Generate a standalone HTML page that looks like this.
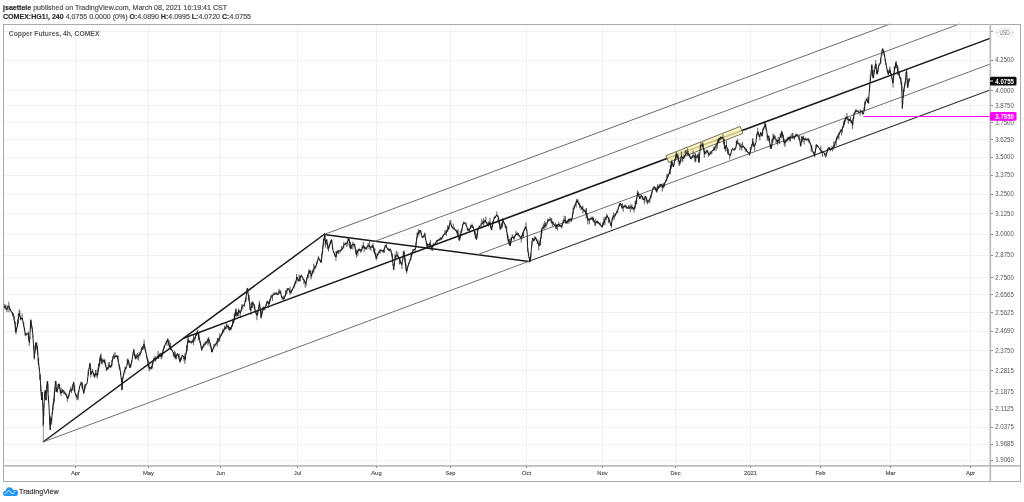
<!DOCTYPE html><html><head><meta charset="utf-8"><style>
html,body{margin:0;padding:0;background:#fff;width:1024px;height:502px;overflow:hidden;}
svg{display:block;position:absolute;left:0;top:0;will-change:transform}
text{font-family:"Liberation Sans",sans-serif}
</style></head><body>
<svg width="1024" height="502" viewBox="0 0 1024 502">
<text x="3" y="9.6" font-size="7.5" fill="#4d4d4d" stroke="#4d4d4d" stroke-width="0.18" textLength="224" lengthAdjust="spacingAndGlyphs"><tspan font-weight="bold" fill="#2e2e2e" stroke="#2e2e2e">jsaettele</tspan> published on TradingView.com, March 08, 2021 16:19:41 CST</text>
<text x="3" y="18.9" font-size="7.2" fill="#4d4d4d" stroke="#4d4d4d" stroke-width="0.18" textLength="248" lengthAdjust="spacingAndGlyphs"><tspan font-weight="bold" fill="#2e2e2e" stroke="#2e2e2e">COMEX:HG1!, 240</tspan> 4.0755 0.0000 (0%) <tspan font-weight="bold" fill="#2e2e2e" stroke="#2e2e2e">O:</tspan>4.0890 <tspan font-weight="bold" fill="#2e2e2e" stroke="#2e2e2e">H:</tspan>4.0995 <tspan font-weight="bold" fill="#2e2e2e" stroke="#2e2e2e">L:</tspan>4.0720 <tspan font-weight="bold" fill="#2e2e2e" stroke="#2e2e2e">C:</tspan>4.0755</text>
<g stroke="#edf2f6" stroke-width="1" shape-rendering="crispEdges">
<line x1="75.5" y1="24" x2="75.5" y2="466"/>
<line x1="148.5" y1="24" x2="148.5" y2="466"/>
<line x1="220.5" y1="24" x2="220.5" y2="466"/>
<line x1="297.5" y1="24" x2="297.5" y2="466"/>
<line x1="376.5" y1="24" x2="376.5" y2="466"/>
<line x1="450.5" y1="24" x2="450.5" y2="466"/>
<line x1="526.5" y1="24" x2="526.5" y2="466"/>
<line x1="602.5" y1="24" x2="602.5" y2="466"/>
<line x1="675.5" y1="24" x2="675.5" y2="466"/>
<line x1="750.5" y1="24" x2="750.5" y2="466"/>
<line x1="820.5" y1="24" x2="820.5" y2="466"/>
<line x1="890.5" y1="24" x2="890.5" y2="466"/>
<line x1="970.5" y1="24" x2="970.5" y2="466"/>
<line x1="3" y1="31.5" x2="990" y2="31.5"/>
<line x1="3" y1="60.5" x2="990" y2="60.5"/>
<line x1="3" y1="90.5" x2="990" y2="90.5"/>
<line x1="3" y1="105.5" x2="990" y2="105.5"/>
<line x1="3" y1="122.5" x2="990" y2="122.5"/>
<line x1="3" y1="139.5" x2="990" y2="139.5"/>
<line x1="3" y1="157.5" x2="990" y2="157.5"/>
<line x1="3" y1="175.5" x2="990" y2="175.5"/>
<line x1="3" y1="194.5" x2="990" y2="194.5"/>
<line x1="3" y1="213.5" x2="990" y2="213.5"/>
<line x1="3" y1="234.5" x2="990" y2="234.5"/>
<line x1="3" y1="255.5" x2="990" y2="255.5"/>
<line x1="3" y1="277.5" x2="990" y2="277.5"/>
<line x1="3" y1="294.5" x2="990" y2="294.5"/>
<line x1="3" y1="312.5" x2="990" y2="312.5"/>
<line x1="3" y1="331.5" x2="990" y2="331.5"/>
<line x1="3" y1="350.5" x2="990" y2="350.5"/>
<line x1="3" y1="370.5" x2="990" y2="370.5"/>
<line x1="3" y1="391.5" x2="990" y2="391.5"/>
<line x1="3" y1="409.5" x2="990" y2="409.5"/>
<line x1="3" y1="427.5" x2="990" y2="427.5"/>
<line x1="3" y1="444.5" x2="990" y2="444.5"/>
<line x1="3" y1="460.5" x2="990" y2="460.5"/>
</g>
<text x="8.8" y="36.3" font-size="7.2" font-weight="bold" fill="#5a5a5a" textLength="90.6" lengthAdjust="spacingAndGlyphs">Copper Futures, 4h, COMEX</text>
<g fill="none" stroke-linecap="butt">
<polyline points="43,442 324,234.5 529,261.5" stroke="#1a1a1a" stroke-width="1.5" stroke-linejoin="round"/>
<line x1="183.5" y1="338.25" x2="990.0" y2="38.4" stroke="#1a1a1a" stroke-width="1.5"/>
<line x1="324" y1="234.5" x2="890.2" y2="24.0" stroke="#6a6a6a" stroke-width="1"/>
<line x1="43" y1="442" x2="529" y2="261.3" stroke="#707070" stroke-width="1"/>
<line x1="529" y1="261.3" x2="990.0" y2="89.9" stroke="#333" stroke-width="1.05"/>
<line x1="375.2" y1="241.2" x2="959.4" y2="24.0" stroke="#707070" stroke-width="1"/>
<line x1="477.8" y1="254.6" x2="990.0" y2="64.1" stroke="#707070" stroke-width="1"/>
</g>
<g transform="translate(704.4,144.5) rotate(-21.5)"><rect x="-39.85" y="-3.7" width="79.7" height="7.4" fill="#fdf2b0" fill-opacity="0.78" stroke="#6f6a55" stroke-width="0.85"/></g>
<path d="M3.5,307.8 L5.6,306.2 L6.7,310.0 L8.3,305.8 L10.4,310.0 L13.6,315.0 L16.0,331.7 L17.5,325.3 L19.1,313.3 L20.7,319.0 L22.3,318.0 L25.5,334.9 L27.9,333.0 L29.5,342.8 L30.8,319.7 L32.7,333.0 L34.3,357.2 L35.9,342.8 L37.5,349.2 L38.4,361.6 L40.0,375.0 L41.0,390.0 L41.6,400.0 L42.2,392.0 L43.0,412.0 L43.3,426.0 L43.8,408.0 L44.6,396.0 L45.3,390.0 L46.0,400.0 L47.0,384.0 L47.6,381.0 L48.2,396.0 L49.0,406.0 L49.6,418.0 L50.2,430.0 L50.8,418.0 L51.6,420.0 L52.7,408.0 L54.0,400.0 L55.5,381.0 L56.7,392.0 L59.1,383.9 L60.7,393.5 L63.1,390.3 L65.5,393.5 L67.9,399.0 L70.3,389.5 L71.9,390.3 L73.5,382.3 L75.1,393.5 L77.5,398.3 L79.9,385.5 L81.5,382.3 L83.8,393.5 L85.4,384.7 L87.0,383.9 L88.6,371.2 L89.9,364.0 L91.0,374.4 L92.6,371.2 L94.2,376.0 L95.8,373.6 L97.2,375.0 L98.8,367.8 L100.4,356.7 L102.0,361.4 L104.3,360.6 L106.7,369.4 L109.1,366.2 L111.5,366.2 L113.1,355.9 L115.5,356.7 L117.1,355.9 L118.7,363.0 L120.3,371.0 L121.9,383.7 L121.9,390.1 L122.7,379.0 L124.3,371.0 L126.7,366.2 L128.2,359.8 L129.8,367.8 L131.4,363.0 L133.8,350.3 L135.4,358.2 L137.8,355.9 L140.2,354.3 L142.6,347.1 L144.2,344.7 L145.8,351.9 L147.4,359.8 L149.0,367.0 L151.4,368.6 L153.7,359.8 L156.9,358.2 L159.3,354.3 L161.7,356.7 L163.3,350.3 L165.7,343.1 L167.8,339.9 L168.9,344.7 L170.5,347.9 L172.9,351.9 L175.3,357.5 L177.6,353.5 L180.0,361.4 L182.4,355.1 L184.8,359.0 L186.4,351.9 L188.0,340.7 L190.4,342.3 L192.8,341.5 L195.2,337.5 L197.6,332.0 L199.2,337.5 L201.6,349.5 L203.9,344.7 L206.3,343.1 L208.7,339.1 L210.3,343.9 L211.9,351.9 L214.3,345.5 L217.5,342.3 L219.9,337.5 L222.3,332.7 L224.7,328.8 L227.0,326.4 L229.4,327.2 L230.0,329.7 L232.4,324.9 L234.0,320.1 L235.6,312.2 L237.2,315.3 L238.8,310.6 L240.4,312.9 L242.0,306.6 L244.3,305.0 L245.9,298.6 L247.2,288.2 L248.8,297.8 L250.7,310.6 L252.3,302.6 L253.9,304.2 L255.5,312.2 L257.1,315.3 L259.5,303.4 L261.1,316.9 L262.7,310.6 L265.1,307.4 L267.5,301.0 L269.0,304.2 L271.4,296.2 L273.8,294.6 L276.2,293.0 L277.8,294.6 L280.2,291.4 L281.8,297.8 L284.2,298.6 L286.6,291.4 L288.2,288.2 L290.6,293.0 L292.9,288.2 L295.3,283.5 L296.9,277.1 L298.5,281.1 L300.9,275.5 L303.3,278.7 L305.7,283.5 L308.1,273.9 L310.5,270.7 L311.3,276.3 L313.7,269.1 L316.1,265.9 L318.4,258.0 L319.6,260.2 L321.2,262.6 L322.5,250.7 L323.6,241.1 L324.7,235.5 L325.6,242.7 L326.8,239.5 L327.9,249.1 L329.5,245.9 L331.5,239.5 L333.1,250.7 L335.5,257.1 L337.1,251.5 L339.5,250.7 L341.9,249.9 L344.3,244.3 L346.7,243.5 L349.1,238.7 L350.7,249.1 L352.3,244.3 L354.7,244.3 L356.2,254.7 L358.6,249.9 L361.0,250.7 L363.4,245.9 L365.8,249.1 L368.2,245.1 L370.6,247.5 L373.0,245.9 L374.6,252.3 L376.2,257.9 L378.6,252.3 L380.9,249.9 L383.3,251.5 L385.7,245.1 L388.1,249.9 L390.5,249.1 L392.1,255.5 L393.7,269.8 L395.3,256.3 L397.7,255.5 L399.3,258.7 L401.7,265.0 L404.0,252.3 L406.4,271.4 L408.8,263.4 L411.2,257.1 L413.3,249.9 L415.5,249.1 L416.8,237.9 L418.4,233.2 L420.3,230.0 L422.4,237.9 L424.8,234.7 L427.2,246.7 L429.6,243.5 L431.5,247.5 L434.3,245.1 L436.7,241.1 L439.1,239.5 L441.5,238.7 L443.9,234.7 L446.3,231.6 L448.4,228.4 L450.3,222.8 L452.7,228.4 L455.0,229.2 L457.4,232.4 L459.5,238.7 L461.4,232.4 L463.0,223.6 L465.4,222.8 L467.8,230.0 L470.0,229.3 L471.6,225.3 L474.0,229.3 L476.4,239.6 L478.0,229.3 L480.4,225.3 L482.7,222.9 L485.1,220.5 L487.5,224.5 L489.9,222.9 L491.5,230.1 L493.9,218.9 L496.8,214.9 L498.4,217.3 L500.3,229.3 L502.7,221.3 L504.3,222.9 L505.9,226.9 L508.2,239.6 L510.2,246.0 L511.8,237.2 L513.8,238.0 L516.2,234.0 L518.6,234.8 L521.0,238.0 L523.4,231.7 L525.8,226.9 L527.1,231.7 L527.7,249.2 L529.0,257.9 L530.2,260.3 L531.4,249.2 L532.5,238.0 L533.7,241.2 L535.3,237.2 L536.9,241.2 L539.3,246.0 L540.9,238.0 L541.7,228.5 L544.1,226.9 L546.5,224.5 L548.1,220.5 L550.5,218.9 L552.9,223.7 L556.1,226.1 L558.4,224.5 L561.6,226.9 L564.0,219.7 L566.4,222.9 L568.8,219.7 L572.0,218.9 L573.6,209.3 L576.8,200.6 L579.2,204.6 L581.6,207.7 L583.9,210.1 L586.3,213.3 L587.9,219.7 L590.3,218.9 L592.7,218.1 L595.1,222.9 L597.5,221.3 L599.9,224.5 L602.3,226.9 L604.7,220.5 L607.0,215.7 L609.4,219.7 L611.0,226.1 L612.6,217.3 L615.0,215.7 L617.4,210.9 L620.0,203.3 L622.4,208.1 L624.8,205.7 L628.0,208.1 L631.2,206.5 L634.3,208.9 L635.9,203.3 L637.8,192.9 L639.9,198.5 L641.5,195.3 L643.9,200.1 L645.5,196.1 L647.9,202.5 L650.3,198.5 L652.7,189.0 L654.3,186.6 L656.7,191.4 L659.0,185.8 L661.1,184.2 L663.0,187.4 L664.6,183.4 L667.0,178.6 L669.4,173.0 L671.0,166.7 L671.8,161.9 L673.4,166.7 L675.0,159.5 L676.6,154.7 L678.2,157.9 L679.8,163.5 L681.4,156.3 L683.7,158.7 L686.1,153.1 L688.5,153.9 L690.9,158.7 L693.3,155.5 L695.7,157.9 L698.1,155.5 L698.9,162.7 L700.5,145.1 L702.9,145.1 L704.5,153.9 L706.9,150.7 L709.2,154.7 L711.6,151.5 L714.0,149.1 L716.4,145.1 L718.8,140.4 L720.0,137.9 L722.7,137.5 L724.0,141.5 L724.9,148.7 L726.3,145.1 L728.1,153.2 L730.3,155.9 L732.1,148.7 L733.9,149.6 L735.7,148.7 L737.0,141.5 L738.8,144.2 L741.5,146.9 L744.2,146.9 L746.0,149.6 L747.8,152.3 L749.6,154.1 L751.4,146.9 L752.7,142.4 L754.1,146.9 L755.9,142.4 L756.8,135.2 L758.1,131.7 L759.5,137.0 L760.8,132.6 L762.2,136.1 L763.0,129.0 L765.3,125.4 L766.6,129.9 L767.5,137.9 L768.9,136.1 L769.8,143.3 L771.1,148.7 L772.5,139.7 L773.8,137.0 L775.6,138.8 L777.4,141.5 L779.2,139.7 L781.9,132.1 L783.2,137.9 L784.6,143.3 L786.4,140.6 L789.1,137.9 L791.7,137.0 L794.4,137.0 L797.1,134.3 L800.0,140.6 L800.6,146.2 L802.2,138.2 L805.3,139.8 L807.7,139.0 L810.1,143.0 L812.5,151.0 L814.6,155.0 L816.5,144.6 L818.9,147.8 L821.3,151.0 L823.7,152.6 L826.1,155.0 L828.4,147.8 L830.8,149.4 L833.2,147.8 L835.6,142.2 L837.2,137.5 L839.6,132.7 L842.0,129.5 L844.4,122.3 L846.0,117.5 L848.4,119.9 L850.8,119.9 L852.4,123.9 L854.0,114.3 L854.8,111.7 L857.2,110.9 L859.6,112.5 L861.2,110.9 L863.5,114.1 L865.1,103.0 L866.7,99.0 L868.3,103.0 L869.1,94.2 L869.9,83.8 L870.7,76.7 L871.8,65.5 L873.1,78.2 L874.7,69.5 L875.8,63.9 L877.1,74.3 L878.7,65.5 L880.3,63.1 L881.4,54.3 L882.7,48.8 L884.3,54.3 L885.9,63.9 L888.2,74.3 L889.8,70.3 L891.4,75.1 L893.0,83.0 L894.6,67.9 L896.2,63.9 L898.6,73.5 L900.7,79.8 L901.8,87.8 L902.3,108.5 L903.4,92.6 L905.0,83.8 L906.6,71.9 L907.7,87.8 L909.0,79.8 L909.8,78.2" fill="none" stroke="#161616" stroke-width="0.95" stroke-linejoin="round"/>
<path d="M3.50,306.7V309.2M4.16,303.6V308.4M4.82,305.6V308.3M5.48,305.7V307.5M5.72,304.6V309.6M6.38,308.4V309.8M7.02,308.7V312.1M7.68,305.3V307.8M8.92,301.7V312.3M9.58,306.5V310.1M10.24,309.1V310.0M10.56,308.9V310.6M11.22,310.7V312.0M11.88,312.0V313.5M12.54,312.2V316.3M13.20,313.0V316.1M14.00,316.0V320.5M14.66,320.7V323.4M15.32,321.7V332.3M15.98,327.2V334.6M16.02,330.6V332.4M16.68,327.9V329.2M17.34,323.0V327.2M17.66,319.5V325.5M18.32,313.9V323.7M18.98,313.9V315.0M19.22,309.3V315.1M19.88,310.8V317.2M20.54,318.0V320.4M20.86,316.7V319.6M21.52,318.1V319.3M22.18,313.5V320.2M22.42,318.1V319.5M23.08,321.6V322.5M23.74,322.2V326.3M24.40,327.2V330.6M25.06,331.9V335.5M25.94,334.1V336.2M26.60,333.6V335.0M27.26,332.9V334.2M28.54,331.6V340.6M29.20,339.9V345.8M29.80,336.5V339.2M30.46,320.4V329.0M31.14,321.5V327.4M31.80,325.9V327.7M32.46,327.7V332.5M32.94,335.3V337.2M33.60,346.0V349.5M34.26,355.5V359.6M34.34,355.4V358.6M35.00,345.6V352.9M35.66,342.5V350.3M36.14,343.1V344.4M36.80,341.9V349.7M37.46,348.2V349.7M37.54,345.5V355.1M38.20,357.9V364.1M38.60,358.0V365.8M39.26,367.2V369.4M39.92,373.9V379.6M40.08,375.1V380.1M40.74,384.9V391.4M41.26,391.4V395.7M41.94,394.6V399.5M42.46,398.0V399.6M43.72,408.2V416.2M43.88,403.7V408.1M44.54,391.6V397.9M44.66,395.1V396.5M45.94,397.1V399.6M46.06,398.2V400.7M46.72,385.7V389.2M47.28,381.4V387.2M47.92,383.7V392.4M48.48,395.8V402.4M49.52,415.7V416.8M49.68,419.2V424.9M50.72,415.8V424.9M50.88,417.9V420.1M51.54,418.5V422.2M51.66,418.0V424.6M52.32,411.6V414.6M53.08,402.6V410.8M53.74,398.5V404.4M54.26,391.8V402.0M54.92,386.8V392.0M56.08,381.0V391.6M57.32,388.7V392.8M57.98,384.0V389.4M58.64,383.5V386.6M59.56,384.6V388.9M60.22,390.1V393.0M61.18,387.6V396.1M61.84,389.9V393.0M62.50,389.0V392.6M63.70,390.0V393.9M64.36,391.6V394.2M65.02,392.5V394.4M65.98,393.3V395.3M66.64,394.0V397.5M67.30,395.9V401.8M68.50,395.8V396.9M69.16,393.1V396.3M69.82,390.7V392.0M70.78,386.4V391.4M71.44,389.0V393.2M72.36,386.9V390.4M73.02,384.0V386.1M73.98,381.7V391.0M74.64,385.3V391.7M75.56,392.8V395.3M76.22,395.2V397.1M76.88,394.1V400.2M78.12,392.2V400.3M78.78,390.5V392.1M79.44,386.5V388.9M80.36,383.9V385.7M81.02,381.5V384.6M81.98,383.6V388.4M82.64,382.6V389.3M83.30,390.6V391.4M84.30,386.3V391.1M84.96,384.4V389.1M85.84,383.7V386.8M86.50,383.8V384.6M87.50,378.2V380.3M88.16,370.2V375.6M89.04,368.2V369.2M89.70,362.8V366.6M90.10,363.0V368.9M90.76,367.6V377.4M91.24,371.9V374.6M91.90,371.3V373.2M92.56,371.0V372.5M92.64,369.0V371.9M93.30,372.5V374.3M93.96,373.0V376.8M94.44,374.0V377.9M95.10,373.6V377.2M95.76,370.0V374.1M95.84,369.7V375.7M96.50,373.8V375.4M97.16,373.3V378.5M97.24,373.6V376.7M97.90,367.6V375.1M98.56,363.6V370.3M99.04,363.5V366.9M99.70,358.4V365.6M100.36,354.4V360.1M100.44,356.1V360.9M101.10,353.5V364.1M101.76,359.1V363.5M102.24,360.5V364.6M102.90,358.4V361.9M103.56,360.4V361.9M104.22,359.3V362.8M104.38,359.4V361.2M105.04,360.2V363.7M105.70,362.7V366.4M106.36,367.1V371.1M107.04,368.4V369.5M107.70,366.8V370.2M108.36,364.3V369.1M109.02,362.0V367.6M109.18,362.3V366.6M109.84,365.6V367.4M110.50,365.5V368.1M111.16,364.7V367.4M111.84,359.8V366.1M112.50,358.7V361.1M113.70,353.5V359.3M114.36,355.7V359.0M115.02,351.9V357.8M115.98,355.1V357.0M116.64,354.9V357.3M117.56,355.9V358.3M118.22,355.6V362.5M119.18,364.1V368.8M119.84,366.8V370.3M120.76,371.6V375.1M121.42,377.8V381.4M122.38,378.1V388.7M123.02,376.5V378.9M123.68,373.5V375.5M124.92,366.9V373.5M125.58,367.2V369.3M126.24,366.5V368.9M127.16,359.2V364.8M127.82,358.4V361.8M128.58,361.0V362.5M129.24,362.5V366.0M130.36,365.1V368.0M131.02,363.7V366.6M131.78,360.4V362.7M132.44,356.6V358.2M133.10,352.2V355.4M133.76,349.3V351.9M133.84,348.8V351.1M134.50,353.0V356.0M135.16,354.8V358.8M135.64,355.1V359.5M136.30,354.4V358.0M136.96,354.6V359.2M137.62,352.7V356.9M137.98,355.0V359.4M138.64,354.7V360.6M139.30,351.8V355.4M139.96,353.8V356.4M140.44,352.8V354.0M141.10,348.4V352.8M141.76,346.8V350.1M142.42,346.5V349.8M142.78,346.5V347.4M143.44,343.9V349.6M144.10,339.7V345.3M144.30,343.5V348.1M144.96,346.5V350.6M145.62,350.4V351.5M145.98,352.3V353.2M146.64,354.2V357.7M147.30,357.4V359.9M147.50,359.6V361.0M148.16,359.5V368.5M148.82,361.1V366.7M149.18,366.7V371.3M149.84,366.5V369.7M150.50,367.2V369.1M151.16,367.2V369.5M151.64,365.8V368.0M152.30,362.7V368.7M152.96,362.0V364.0M153.62,357.5V361.3M153.78,359.2V360.3M154.44,358.2V359.7M155.10,356.0V361.5M155.76,356.9V361.6M156.42,356.9V359.4M157.38,355.8V358.7M158.04,351.0V359.0M158.70,354.5V359.0M159.90,352.8V357.2M160.56,353.0V356.6M161.22,352.9V359.4M162.18,352.4V357.7M162.84,349.3V353.4M163.76,346.5V349.3M164.42,346.0V348.3M165.08,344.6V346.0M166.32,340.4V343.8M166.98,340.5V345.6M167.64,338.3V341.0M167.96,338.3V342.4M168.62,341.8V344.7M169.18,340.0V347.1M169.84,344.5V349.0M170.50,342.6V348.2M170.50,346.2V350.1M171.16,348.3V350.0M171.82,349.7V350.7M172.48,350.2V351.6M173.32,352.1V356.8M173.98,352.9V355.8M174.64,350.7V357.5M175.30,352.2V359.4M175.30,354.8V357.9M175.96,354.7V358.7M176.62,354.8V359.4M177.28,353.5V355.3M177.92,353.9V356.0M178.58,354.8V357.1M179.24,353.7V360.1M179.90,359.5V362.9M180.10,360.1V362.0M180.76,357.4V361.0M181.42,356.8V360.0M182.08,355.1V356.3M182.72,354.9V356.0M183.38,356.1V359.0M184.04,356.8V361.3M184.70,356.6V359.2M184.90,353.3V363.9M185.56,355.2V360.3M186.22,351.4V354.2M186.58,345.3V351.6M187.24,344.1V351.3M187.90,338.3V343.1M188.10,335.5V343.3M188.76,339.7V341.7M189.42,340.1V342.7M190.08,341.5V342.5M190.72,341.0V342.7M191.38,340.9V343.6M192.04,340.7V342.4M192.70,340.1V342.5M192.90,338.9V342.7M193.56,334.9V344.9M194.22,336.9V339.8M194.88,337.6V341.5M195.52,334.1V338.6M196.18,334.3V336.0M196.84,331.7V335.3M197.50,330.6V334.1M197.70,329.7V333.0M198.36,333.8V339.9M199.02,332.4V340.8M199.38,338.0V338.8M200.04,340.8V343.1M200.70,342.8V345.5M201.36,346.5V348.7M201.84,348.6V351.0M202.50,346.1V349.4M203.16,345.2V347.5M203.82,344.2V345.8M203.98,342.6V347.3M204.64,343.8V344.7M205.30,341.3V345.3M205.96,341.1V343.9M206.64,341.4V343.3M207.30,338.7V342.4M207.96,338.5V345.6M208.62,338.4V340.7M208.78,336.8V343.8M209.44,340.1V342.4M210.10,342.8V347.0M210.50,344.4V345.4M211.16,346.3V349.8M211.82,349.0V352.5M211.98,349.0V352.1M212.64,349.2V351.9M213.30,347.7V349.0M213.96,344.1V348.6M214.64,344.4V345.7M215.30,343.6V346.5M215.96,342.9V344.3M216.62,341.2V344.6M217.28,338.8V346.6M217.72,337.9V343.0M218.38,337.8V341.4M219.04,338.4V340.3M219.70,333.5V341.5M220.10,336.4V338.1M220.76,334.8V336.8M221.42,333.4V335.5M222.08,332.5V334.7M222.52,329.8V333.8M223.18,328.4V332.8M223.84,329.6V332.5M224.50,325.8V329.9M224.90,328.3V329.9M225.56,326.5V329.3M226.22,322.3V328.9M226.88,324.0V326.9M227.12,325.2V328.7M227.78,326.3V327.1M228.44,324.9V330.0M229.10,326.7V328.7M229.70,327.9V331.2M230.30,327.2V329.8M230.96,327.1V330.2M231.62,325.1V328.9M232.28,324.1V326.1M232.52,319.2V326.7M233.18,321.1V324.1M233.84,318.2V322.9M234.16,314.3V320.6M234.82,312.4V318.5M235.48,308.8V316.2M235.72,309.5V316.0M236.38,308.7V315.5M237.04,313.6V317.1M237.36,311.9V316.0M238.02,311.7V313.4M238.68,308.5V316.3M238.92,309.8V311.3M239.58,311.1V312.8M240.24,311.9V317.9M240.56,311.9V313.2M241.22,309.2V311.8M241.88,304.1V307.7M242.12,306.1V307.6M242.78,304.6V309.5M243.44,305.3V306.0M244.10,304.6V305.8M244.50,303.4V306.7M245.16,299.7V302.3M245.82,298.3V299.8M245.98,297.2V301.6M246.64,291.5V294.8M247.76,287.8V293.2M248.42,294.6V300.3M249.18,295.1V301.6M249.84,302.8V310.1M250.50,307.5V310.1M250.90,309.2V314.9M251.56,302.9V307.5M252.22,301.3V304.7M252.38,301.9V308.0M253.04,301.6V304.0M253.70,303.7V305.2M254.10,304.0V308.6M254.76,305.8V310.6M255.42,311.2V312.4M255.58,311.5V313.1M256.24,310.3V315.0M256.90,313.1V320.2M257.30,313.4V316.1M257.96,310.4V314.2M258.62,307.5V311.4M259.28,300.6V308.1M259.72,304.7V306.3M260.38,307.5V311.4M261.04,314.5V318.2M261.16,311.4V318.5M261.82,310.3V315.0M262.48,308.4V312.7M262.92,306.5V310.7M263.58,306.7V310.1M264.24,307.2V309.9M264.90,307.1V310.4M265.30,306.0V307.8M265.96,304.7V306.0M266.62,302.0V305.6M267.28,300.6V303.7M267.72,301.0V302.5M268.38,301.6V308.2M269.62,298.9V304.2M270.28,299.6V301.0M270.94,295.4V298.5M271.86,294.5V297.0M272.52,295.1V300.8M273.18,292.6V295.6M274.42,292.6V294.9M275.08,292.8V295.1M275.74,292.5V294.1M276.66,292.5V295.2M277.32,293.4V294.7M278.28,291.8V294.8M278.94,288.7V294.5M279.60,290.1V293.1M280.80,290.4V294.3M281.46,295.9V296.9M282.14,296.2V299.8M282.80,297.6V299.1M283.46,295.8V299.8M284.12,298.2V299.2M284.28,297.8V298.9M284.94,295.2V296.8M285.60,290.0V295.6M286.26,291.0V294.4M286.94,288.3V293.6M287.60,288.4V290.3M288.80,288.3V289.7M289.46,289.7V292.8M290.12,286.7V294.7M291.08,290.1V293.7M291.74,290.3V291.5M292.40,288.3V291.1M293.40,286.8V288.2M294.06,284.6V288.5M294.72,281.8V286.3M295.88,280.6V284.1M296.54,274.1V280.3M297.26,277.0V279.4M297.92,279.1V281.9M299.08,274.4V281.2M299.74,276.0V281.3M300.40,276.0V281.4M301.40,274.5V276.8M302.06,276.6V277.7M302.72,276.4V279.9M303.88,279.0V284.1M304.54,280.2V282.4M305.20,282.0V287.8M306.20,280.9V286.0M306.86,277.2V280.6M307.52,274.5V277.1M308.68,269.5V278.4M309.34,269.6V273.8M310.00,270.9V274.1M311.00,273.1V279.5M311.60,274.7V277.1M312.26,270.2V274.1M312.92,269.8V271.9M313.58,269.1V270.1M313.82,263.6V273.1M314.48,266.3V268.9M315.14,265.3V269.3M315.80,265.3V267.8M316.40,261.8V265.2M317.06,261.9V264.0M317.72,259.8V261.5M318.38,256.3V258.7M318.42,256.7V258.8M319.08,257.7V260.1M320.12,259.2V261.3M320.78,260.1V262.5M321.62,253.5V261.4M322.28,250.8V254.3M322.72,246.1V252.0M323.38,239.2V246.7M323.82,238.4V245.3M324.48,232.8V240.7M324.92,235.7V238.9M325.58,240.3V247.8M325.62,241.2V244.1M326.28,239.7V244.9M327.32,242.8V244.5M328.48,245.7V251.7M329.14,244.4V248.3M329.86,242.1V245.7M330.52,240.8V243.1M331.18,240.0V241.8M331.82,239.9V243.2M332.48,245.9V249.3M333.72,250.9V253.1M334.38,253.2V255.2M335.04,255.1V256.3M335.96,251.1V260.8M336.62,251.0V256.9M337.58,250.4V253.7M338.24,250.5V253.1M338.90,249.6V254.1M340.10,250.1V252.8M340.76,249.8V251.5M341.42,246.0V250.4M342.38,248.1V249.6M343.04,246.3V247.6M343.70,241.9V248.6M344.90,243.2V245.0M345.56,242.5V244.2M346.22,243.3V246.8M347.18,241.7V243.9M347.84,236.9V246.5M348.50,238.6V240.5M349.70,241.6V247.9M350.36,241.7V247.7M351.04,244.8V249.1M351.70,244.8V246.7M352.90,241.5V249.6M353.56,243.7V245.8M354.22,243.7V247.1M355.18,247.2V248.2M355.84,249.1V253.3M356.56,250.2V257.3M357.22,250.5V253.2M357.88,249.3V255.8M358.54,248.8V250.4M358.66,249.3V250.7M359.32,248.3V250.7M359.98,249.8V251.0M360.64,248.9V252.8M361.36,249.0V251.9M362.02,245.1V250.3M362.68,246.7V248.2M363.34,241.8V248.0M363.46,245.2V247.7M364.12,246.4V252.2M364.78,246.6V249.1M365.44,247.3V249.0M366.16,246.9V249.3M366.82,246.7V250.0M367.48,245.9V247.1M368.14,242.9V245.9M368.26,244.4V246.5M368.92,245.2V249.2M369.58,241.2V246.8M370.24,246.0V249.3M370.96,246.3V251.0M371.62,245.6V247.4M372.28,245.0V248.0M372.94,245.1V247.6M373.06,243.1V247.7M373.72,247.2V252.4M374.38,249.1V253.0M374.82,247.8V253.7M375.48,252.5V256.0M376.14,255.8V258.4M376.26,256.6V260.3M376.92,253.5V258.9M377.58,254.0V256.0M378.24,252.5V254.8M378.96,250.7V252.3M379.62,249.7V253.2M380.28,249.1V253.6M381.52,249.8V250.8M382.18,250.4V251.9M382.84,250.2V252.2M383.76,249.5V253.1M384.42,248.1V252.6M385.08,245.1V248.3M386.32,243.7V247.0M386.98,247.1V248.5M387.64,248.6V249.8M388.56,248.2V251.0M389.22,248.8V250.9M389.88,248.9V251.8M391.12,250.9V252.4M391.78,253.6V256.6M392.42,253.6V262.5M393.08,263.8V265.9M394.32,263.2V265.5M394.98,253.7V259.4M395.62,255.1V258.3M396.28,250.7V256.5M396.94,254.7V257.8M397.60,255.2V256.2M397.80,252.1V256.2M398.46,256.0V257.8M399.12,257.2V258.8M399.48,258.8V264.5M400.14,258.3V263.3M400.80,261.9V263.4M401.46,262.8V265.1M401.94,262.1V269.0M402.60,258.8V261.2M403.26,251.1V258.6M403.92,252.4V254.1M404.08,250.2V253.4M404.74,256.9V261.3M405.40,258.5V265.8M406.06,263.4V270.5M406.74,269.1V273.7M407.40,267.0V270.9M408.06,265.2V266.9M408.72,263.0V265.3M408.88,262.6V263.8M409.54,260.8V262.8M410.20,258.8V261.0M410.86,252.7V260.1M411.54,252.3V256.6M412.20,252.6V254.1M412.86,249.1V252.5M413.74,249.0V250.1M414.40,248.9V250.2M415.06,248.3V252.8M415.94,241.9V246.4M416.60,238.2V240.3M417.00,232.5V238.3M417.66,232.7V237.8M418.32,229.3V233.8M418.48,232.2V234.1M419.14,231.5V235.3M419.80,230.0V233.3M420.80,230.3V232.3M421.46,233.2V235.1M422.12,236.5V237.4M422.68,236.0V237.9M423.34,235.8V237.7M424.00,234.4V236.3M424.66,232.9V235.6M424.94,232.6V237.8M425.60,238.1V239.4M426.26,241.1V244.7M426.92,244.0V246.5M427.48,243.2V247.0M428.14,244.7V246.3M428.80,243.9V244.9M429.46,243.4V245.4M429.74,242.2V246.6M430.40,239.9V246.0M431.06,244.6V250.7M431.94,246.5V249.0M432.60,244.8V251.0M433.26,243.0V246.6M433.92,243.8V245.9M434.68,243.4V245.5M435.34,243.0V244.4M436.00,241.4V243.6M436.66,240.4V241.7M436.74,240.1V242.2M437.40,240.1V242.4M438.06,239.5V240.6M438.72,238.9V240.8M439.48,238.9V240.8M440.14,237.3V240.5M440.80,237.1V239.3M441.46,237.8V239.6M441.54,238.2V239.7M442.20,237.2V238.8M442.86,234.9V237.6M443.52,234.5V236.1M444.28,233.9V235.1M444.94,230.0V234.8M445.60,231.8V234.3M446.26,231.1V232.8M446.34,229.9V236.2M447.00,229.6V232.1M447.66,225.2V231.9M448.32,226.8V230.2M448.48,227.0V229.3M449.14,225.4V229.4M449.80,220.5V225.4M450.80,220.0V224.3M451.46,225.0V226.9M452.12,226.2V228.0M453.28,223.6V229.1M453.94,228.3V229.5M454.60,227.3V229.7M455.40,229.4V231.1M456.06,229.6V231.3M456.72,230.2V233.3M457.38,231.0V234.0M457.42,230.8V235.7M458.08,229.1V235.4M458.74,235.4V240.3M459.40,237.5V240.8M459.60,236.1V240.6M460.26,230.9V239.4M460.92,233.4V235.9M461.88,228.1V231.7M462.54,224.9V227.1M463.46,221.4V224.7M464.12,222.6V223.9M464.78,222.2V223.6M466.02,223.2V225.2M466.68,226.2V227.1M467.34,228.1V230.9M468.26,229.4V230.9M468.92,227.5V230.8M469.58,228.9V232.2M470.42,224.8V228.6M471.08,225.8V228.0M472.12,223.6V227.2M472.78,225.2V228.0M473.44,226.3V229.2M474.56,230.7V234.6M475.22,230.9V238.0M475.88,235.5V238.7M476.92,233.3V238.6M477.58,227.9V235.7M478.42,228.1V229.6M479.08,225.6V228.2M479.74,225.8V226.7M481.06,223.1V228.7M481.72,218.9V224.4M482.38,221.4V224.3M483.02,220.9V223.6M483.68,218.0V227.2M484.34,220.9V223.2M485.00,220.1V221.0M485.20,219.9V222.9M485.86,216.5V222.3M486.52,222.0V223.2M487.18,222.5V225.2M487.82,223.4V225.1M488.48,221.5V226.5M489.14,222.7V224.4M489.80,221.4V225.1M490.00,218.0V224.6M490.66,223.8V228.1M491.32,226.0V229.9M491.68,228.6V229.8M492.34,220.9V227.0M493.00,221.5V223.6M493.66,219.0V220.4M494.14,217.1V219.1M494.80,216.0V218.4M495.46,216.1V218.0M496.12,214.9V216.6M496.78,214.6V215.3M496.82,211.5V215.8M497.48,215.5V216.5M498.14,215.7V222.2M498.66,218.2V223.5M499.32,221.4V224.5M499.98,223.5V228.6M500.62,227.8V229.9M501.28,223.9V228.0M501.94,223.0V228.8M502.60,218.0V226.9M502.80,220.3V224.1M503.46,220.0V222.6M504.12,222.4V223.3M504.48,222.9V223.8M505.14,224.0V227.5M505.80,225.8V228.1M506.00,227.1V228.2M506.66,225.8V231.4M507.32,232.9V238.4M507.98,234.9V241.3M508.42,239.2V243.3M509.08,239.2V245.1M509.74,239.2V245.0M510.66,238.2V244.8M511.32,237.1V240.7M512.28,234.1V237.7M512.94,236.3V238.3M513.60,237.0V238.8M514.00,235.8V240.4M514.66,235.6V238.3M515.32,234.5V236.2M515.98,230.7V235.2M516.42,233.6V234.9M517.08,232.3V234.9M517.74,232.5V235.8M518.40,233.0V235.3M518.80,234.6V235.6M519.46,235.0V237.0M520.12,236.5V238.1M520.78,236.7V238.5M521.22,235.9V242.5M521.88,235.0V239.3M522.54,233.0V236.5M523.20,231.7V237.5M523.60,230.2V236.5M524.26,229.3V231.1M524.92,226.5V229.3M525.58,226.6V229.3M526.02,222.4V228.7M526.68,229.5V231.2M527.52,238.6V244.7M527.88,247.9V251.7M528.54,252.3V255.6M529.46,257.1V262.4M530.12,257.0V261.9M530.28,257.5V262.0M530.94,252.8V258.4M531.86,241.1V246.4M533.14,237.7V240.9M534.26,238.7V240.5M534.92,236.4V239.8M535.68,236.7V238.5M536.34,238.0V241.0M537.46,240.7V244.0M538.12,239.3V244.2M538.78,243.7V250.3M539.82,240.5V244.4M540.48,237.2V245.4M541.32,231.2V238.3M542.08,227.8V233.5M542.74,226.6V228.5M543.40,224.7V229.0M544.06,223.0V229.5M544.14,224.4V228.1M544.80,220.9V226.6M545.46,222.5V227.5M546.12,224.2V227.4M546.88,222.3V225.0M547.54,218.5V222.5M548.66,219.4V221.8M549.32,219.3V221.0M549.98,216.9V220.4M551.02,219.2V222.6M551.68,218.1V223.8M552.34,221.1V226.4M553.46,221.7V224.6M554.12,223.7V225.1M554.78,224.8V226.0M555.44,222.7V228.3M556.10,225.6V226.7M556.10,225.2V228.9M556.76,224.1V229.0M557.42,224.8V230.5M558.08,224.1V226.3M558.72,221.7V226.7M559.38,224.6V227.0M560.04,224.7V226.1M560.70,225.4V227.0M561.36,225.1V227.4M561.84,224.4V228.4M562.50,223.6V224.7M563.16,220.0V223.5M563.82,219.7V220.7M564.18,215.7V221.6M564.84,219.9V221.4M565.50,216.4V223.6M566.16,220.4V223.5M566.64,221.8V223.6M567.30,221.2V223.4M567.96,219.8V223.5M568.62,218.9V221.1M568.98,218.5V223.5M569.64,218.7V221.3M570.30,218.7V220.7M570.96,218.4V222.0M571.62,218.3V221.7M572.38,214.0V218.2M573.04,207.4V214.0M574.16,205.3V209.5M574.82,204.7V206.4M575.48,203.0V205.0M576.14,201.2V207.6M576.80,199.7V202.8M576.80,198.7V201.3M577.46,200.6V202.2M578.12,199.2V203.5M578.78,202.8V204.8M579.62,202.5V208.1M580.28,204.5V207.4M580.94,206.4V210.3M581.60,207.3V208.6M581.60,206.8V209.7M582.26,206.6V209.3M582.92,205.7V213.4M583.58,209.4V211.4M584.22,209.3V211.5M584.88,210.2V212.2M585.54,210.4V213.9M586.20,208.0V218.5M586.40,208.4V214.9M587.06,212.9V218.5M587.72,216.5V224.3M588.08,219.3V220.7M588.74,218.5V221.1M589.40,218.6V224.5M590.06,218.4V219.9M590.54,218.3V219.7M591.20,216.6V219.0M591.86,217.9V220.0M592.52,216.6V220.2M592.88,217.7V221.2M593.54,217.5V222.3M594.20,220.6V222.3M594.86,222.1V225.6M595.34,218.7V226.0M596.00,222.0V223.2M596.66,220.6V223.1M597.32,221.0V223.7M597.68,220.7V222.8M598.34,221.9V223.9M599.00,222.8V223.7M599.66,222.9V225.0M600.14,222.4V225.4M600.80,224.4V225.8M601.46,225.4V227.2M602.12,225.3V227.8M602.48,223.1V226.9M603.14,221.4V225.2M603.80,217.6V224.4M604.46,220.0V222.9M604.94,216.7V225.3M605.60,217.5V218.9M606.26,216.7V220.1M606.92,213.6V218.0M607.08,215.3V217.2M607.74,216.6V217.4M608.40,217.2V223.2M609.06,217.3V222.1M609.74,220.7V222.3M610.40,223.3V224.5M611.60,222.3V228.1M612.26,218.1V220.8M612.94,215.4V220.2M613.60,212.5V218.0M614.26,215.0V219.5M614.92,214.8V216.5M615.08,213.2V216.3M615.74,213.2V215.4M616.40,211.6V213.9M617.06,210.4V212.8M617.74,209.5V213.1M618.40,207.6V209.5M619.06,204.5V207.2M619.72,203.4V204.6M620.28,202.9V204.7M620.94,203.9V205.9M621.60,204.1V207.8M622.26,207.5V208.9M622.54,203.1V208.3M623.20,205.8V212.0M623.86,205.7V208.2M624.52,205.1V206.8M625.08,204.4V207.4M625.74,205.6V207.6M626.40,205.7V209.0M627.06,207.0V207.8M627.72,207.2V208.6M628.28,205.6V209.0M628.94,204.8V208.6M629.60,206.6V209.0M630.26,206.6V212.3M630.92,204.1V207.4M631.48,205.9V209.3M632.14,204.9V208.9M632.80,207.4V209.9M633.46,207.9V209.8M634.12,207.4V212.5M634.48,206.2V208.6M635.14,201.0V208.6M635.80,201.9V204.0M636.00,199.8V204.1M636.66,196.6V204.4M637.32,190.3V196.0M638.28,191.5V195.4M638.94,193.4V197.0M639.60,196.5V198.9M640.20,197.4V198.8M640.86,194.3V197.0M642.14,196.1V199.6M642.80,196.0V199.4M643.46,198.7V199.7M644.34,198.1V204.1M645.00,195.8V201.6M646.00,196.8V198.6M646.66,197.7V202.4M647.32,200.4V204.5M648.48,200.3V201.9M649.14,199.3V201.4M649.80,197.4V203.4M650.80,195.0V198.9M651.46,192.7V196.9M652.12,190.8V194.0M653.28,187.6V189.7M653.94,186.5V188.0M654.66,186.8V188.3M655.32,187.0V190.0M655.98,188.9V191.5M656.64,188.2V192.2M656.76,189.6V192.6M657.42,184.3V190.6M658.08,185.9V188.8M658.74,185.7V188.8M659.26,184.2V186.3M659.92,184.7V187.7M660.58,183.7V186.5M661.62,184.0V186.8M662.28,184.7V191.5M662.94,183.5V188.5M663.06,185.9V188.0M663.72,183.1V186.1M664.38,183.1V187.2M664.82,182.6V185.0M665.48,180.1V183.1M666.14,179.4V180.9M666.80,174.2V181.5M667.20,175.3V178.6M667.86,173.9V177.3M668.52,174.4V176.5M669.18,171.8V174.0M669.62,169.3V174.0M670.28,165.2V174.4M670.94,164.6V168.0M671.06,161.0V169.3M671.72,161.4V166.7M671.88,159.7V162.9M672.54,163.4V164.5M673.20,164.5V166.9M673.60,164.9V166.6M674.26,162.3V164.4M674.92,159.0V160.8M675.08,158.4V160.7M675.74,153.6V157.9M676.40,151.8V158.7M676.80,153.4V156.6M677.46,154.1V157.9M678.12,155.8V161.8M678.28,155.3V159.0M678.94,160.1V165.5M679.60,161.7V165.7M680.00,161.8V164.0M680.66,158.5V162.3M681.32,151.4V158.3M681.48,155.0V157.3M682.14,156.4V161.4M682.80,157.3V161.9M683.46,156.7V158.9M683.94,154.3V158.6M684.60,155.0V157.1M685.26,149.8V155.9M685.92,150.1V153.9M686.28,151.5V153.5M686.94,153.0V154.7M687.60,148.3V155.3M688.26,151.1V156.0M688.74,153.0V154.8M689.40,154.3V156.3M690.06,155.6V158.0M690.72,157.0V159.0M691.08,156.5V159.5M691.74,156.4V158.0M692.40,155.5V158.1M693.06,150.5V157.3M693.54,155.2V156.5M694.20,155.6V158.3M694.86,153.0V162.4M695.52,153.4V161.5M695.88,154.8V161.7M696.54,156.7V158.3M697.20,154.9V158.3M697.86,154.2V157.3M698.34,152.4V158.2M699.46,154.2V161.8M700.12,148.9V149.9M700.88,142.4V149.2M701.54,144.8V145.4M702.20,142.7V146.8M702.86,143.9V146.4M702.94,142.2V148.9M703.60,148.6V149.4M704.26,149.1V157.9M704.74,150.8V154.6M705.40,151.8V153.6M706.06,151.5V154.2M706.72,150.2V152.5M707.08,149.6V151.9M707.74,150.2V153.3M708.40,152.6V156.7M709.06,153.9V155.0M709.34,153.8V155.7M710.00,151.2V154.5M710.66,152.1V154.5M711.32,151.2V153.2M711.88,150.5V154.3M712.54,150.0V151.2M713.20,149.1V150.7M713.86,147.2V151.0M714.14,146.3V150.3M714.80,147.3V150.1M715.46,146.0V147.3M716.12,144.5V150.9M716.68,143.6V145.5M717.34,139.4V148.6M718.00,140.9V142.5M718.66,138.1V143.2M718.94,139.2V142.8M719.60,137.7V139.5M720.40,136.4V139.8M721.06,136.7V140.1M721.72,137.3V138.8M722.38,136.7V137.9M723.02,134.1V139.0M723.68,139.8V144.3M724.32,138.8V149.4M725.48,146.3V151.7M726.14,145.0V147.8M726.46,140.5V146.5M727.12,148.2V151.2M727.78,147.5V154.5M728.42,149.2V154.7M729.08,153.5V154.9M729.74,154.5V159.4M730.86,153.2V154.3M731.52,150.0V151.4M732.68,148.2V149.5M733.34,148.9V150.6M734.46,148.0V150.7M735.12,146.9V150.2M736.28,140.2V146.0M736.94,141.0V142.3M737.06,140.8V143.9M737.72,138.6V143.9M738.38,143.0V144.4M739.22,143.2V145.4M739.88,142.9V150.4M740.54,144.8V147.5M741.20,143.8V147.7M741.80,146.3V150.7M742.46,142.0V147.2M743.12,144.9V147.8M743.78,146.5V147.4M744.62,147.0V149.7M745.28,147.9V148.8M745.94,148.9V152.1M746.06,148.4V151.5M746.72,149.5V151.3M747.38,151.3V152.5M748.22,152.4V153.4M748.88,151.8V154.3M749.54,152.9V155.7M749.66,152.9V154.9M750.32,147.1V153.1M750.98,147.3V150.3M751.82,144.1V146.4M752.48,138.7V143.9M752.92,138.2V146.6M753.58,141.4V145.8M754.62,144.2V150.9M755.28,143.1V144.5M756.52,134.1V138.4M757.08,132.8V135.0M757.74,127.7V133.5M758.46,132.6V135.4M759.12,134.5V137.3M759.88,134.3V140.3M760.54,132.0V134.6M761.06,132.9V134.6M761.72,134.1V136.5M762.68,129.1V133.7M763.32,128.1V129.8M763.98,126.2V129.2M764.64,121.1V127.2M765.30,124.3V125.8M765.30,122.4V126.2M765.96,124.4V130.7M767.24,134.6V140.9M767.76,136.3V138.6M768.42,135.3V141.1M769.38,138.1V141.8M770.22,144.1V148.7M770.88,146.2V148.8M771.32,146.5V148.1M771.98,138.9V146.8M773.02,133.3V142.7M773.68,135.2V139.9M773.92,135.1V139.6M774.58,135.3V138.3M775.24,135.9V139.2M775.96,138.6V143.2M776.62,140.0V141.6M777.28,140.4V143.8M777.52,139.8V144.9M778.18,136.8V142.4M778.84,139.7V141.8M779.56,138.2V144.0M780.22,133.2V137.7M780.88,134.3V137.2M781.54,130.5V138.4M782.26,131.6V134.3M782.92,134.0V137.1M783.48,135.1V141.8M784.14,138.5V145.5M785.06,141.1V147.0M785.72,139.9V142.9M786.38,139.6V141.5M786.42,140.2V141.1M787.08,137.5V140.6M787.74,137.5V141.6M788.40,136.7V139.9M789.06,137.1V138.7M789.14,137.3V139.5M789.80,135.9V141.5M790.46,136.6V141.0M791.12,133.9V137.9M792.28,133.1V138.5M792.94,132.8V139.1M793.60,136.2V137.7M794.26,135.8V138.1M794.54,136.5V139.8M795.20,134.9V137.4M795.86,133.4V136.2M796.52,134.3V136.3M797.68,134.8V136.5M798.34,136.6V137.4M799.00,137.5V139.9M799.66,135.1V141.7M800.34,142.1V145.4M800.86,144.1V146.4M801.52,136.3V142.1M802.18,136.9V140.8M802.22,136.1V139.5M802.88,136.9V142.4M803.54,135.6V139.6M804.20,137.9V144.5M804.86,138.3V140.1M805.74,137.5V140.0M806.40,138.9V140.7M807.06,138.5V141.1M808.34,137.9V140.9M809.00,138.8V143.0M809.66,140.2V143.4M810.54,143.2V145.0M811.20,145.3V152.0M811.86,144.9V149.3M813.14,151.8V153.0M813.80,151.4V154.6M814.46,154.2V155.9M814.74,152.2V157.2M815.40,149.3V153.0M816.06,144.4V149.2M816.94,144.8V147.2M817.60,145.6V146.4M818.26,145.8V147.3M819.54,148.2V149.6M820.20,148.4V150.0M820.86,145.8V153.4M821.74,150.1V152.7M822.40,150.9V157.0M823.06,151.7V152.9M824.34,152.6V156.2M825.00,152.6V154.9M825.66,153.6V157.8M826.54,152.8V156.5M827.20,149.2V152.8M827.86,148.4V150.7M828.94,147.1V149.0M829.60,147.0V149.6M830.26,148.3V151.3M831.34,148.0V150.2M832.00,145.6V149.7M832.66,147.2V151.4M833.74,141.2V149.2M834.40,143.9V147.0M835.06,141.1V144.3M836.14,138.2V145.8M836.80,136.6V140.8M837.60,135.6V138.6M838.26,134.7V137.9M838.92,132.6V139.4M839.58,131.8V134.9M839.62,132.3V133.7M840.28,129.5V132.5M840.94,129.3V131.6M841.60,129.0V135.3M842.40,127.6V132.6M843.06,125.9V128.0M843.72,121.2V127.6M844.38,121.2V124.1M844.42,119.9V124.9M845.08,117.7V122.0M845.74,117.5V120.6M846.26,116.4V119.1M846.92,113.1V118.9M847.58,116.7V119.9M848.24,117.7V124.1M848.56,119.2V121.2M849.22,118.7V121.0M849.88,119.4V121.4M850.54,116.9V121.5M851.06,119.7V123.4M851.72,121.1V122.7M852.38,122.1V125.1M852.42,121.9V129.1M853.08,117.8V125.1M853.74,114.7V119.1M854.26,113.0V114.4M855.34,109.8V113.3M856.00,108.8V112.2M856.66,110.4V111.9M857.74,110.0V111.6M858.40,110.8V113.4M859.06,111.6V112.9M860.14,108.9V115.9M860.80,110.6V111.9M861.60,111.0V111.9M862.26,109.9V114.6M862.92,112.6V114.5M864.08,107.2V110.4M864.74,101.4V110.1M865.46,101.4V104.3M866.12,98.3V101.4M867.28,96.9V101.1M867.94,100.8V103.0M868.66,97.1V104.0M869.54,85.7V91.5M870.26,75.3V81.5M871.14,71.2V75.1M871.80,64.8V70.8M871.80,64.1V67.3M872.46,70.2V76.8M873.74,69.5V77.3M874.40,70.5V72.3M875.00,65.3V68.7M875.66,60.2V68.9M875.94,64.1V66.4M876.60,69.4V73.6M877.60,71.2V74.2M878.26,67.5V71.9M879.14,63.4V66.4M879.80,63.4V64.2M880.80,57.8V64.4M882.00,49.8V55.6M882.66,48.6V49.5M882.74,48.6V51.3M883.40,50.6V52.0M884.06,51.3V55.8M884.54,54.6V57.3M885.20,58.7V61.7M885.86,62.5V64.9M885.94,63.3V65.0M886.60,66.2V67.4M887.26,69.1V72.0M887.92,72.2V73.6M888.48,70.4V74.9M889.14,70.5V72.8M889.80,66.6V72.8M889.80,68.4V72.4M890.46,70.1V73.7M891.12,73.1V75.4M891.68,74.8V78.0M892.34,78.0V81.5M893.00,79.7V87.6M893.00,82.1V83.4M893.66,75.6V77.2M894.32,66.2V73.3M894.88,66.4V67.8M895.54,62.1V68.7M896.20,61.8V66.0M896.20,61.2V65.3M896.86,65.3V68.3M897.52,65.1V74.5M898.18,67.1V75.3M899.02,74.3V75.5M899.68,71.4V78.3M900.34,77.2V79.6M901.06,77.7V84.4M901.72,81.9V87.7M901.88,85.8V91.5M902.72,101.7V104.2M903.38,89.6V93.5M903.42,90.5V97.8M904.08,87.4V92.0M904.74,83.1V87.3M905.26,81.1V83.6M905.92,71.7V79.8M906.58,71.2V73.7M906.62,69.6V73.7M907.28,78.9V85.0M908.12,84.9V86.0M908.78,78.6V82.0M909.22,78.9V81.8" stroke="#1a1a1a" stroke-width="0.7" fill="none"/>
<line x1="43.3" y1="424" x2="43.3" y2="442" stroke="#777" stroke-width="0.8"/>
<line x1="863.5" y1="116.5" x2="990" y2="116.5" stroke="#ff00ff" stroke-width="1"/>
<g fill="none" stroke="#aaaaaa" stroke-width="1" shape-rendering="crispEdges">
<rect x="3.5" y="24.5" width="1017" height="457"/>
</g>
<line x1="990.3" y1="24" x2="990.3" y2="481" stroke="#bdbdbd" stroke-width="1.8"/>
<line x1="3" y1="465.9" x2="1020" y2="465.9" stroke="#bdbdbd" stroke-width="1.8"/>
<g font-size="6.4" fill="#555" stroke="none">
<text x="995.2" y="62.4" textLength="18.6" lengthAdjust="spacingAndGlyphs">4.2500</text>
<text x="995.2" y="92.6" textLength="18.6" lengthAdjust="spacingAndGlyphs">4.0000</text>
<text x="995.2" y="107.8" textLength="18.6" lengthAdjust="spacingAndGlyphs">3.8750</text>
<text x="995.2" y="124.8" textLength="18.6" lengthAdjust="spacingAndGlyphs">3.7500</text>
<text x="995.2" y="141.7" textLength="18.6" lengthAdjust="spacingAndGlyphs">3.6250</text>
<text x="995.2" y="159.2" textLength="18.6" lengthAdjust="spacingAndGlyphs">3.5000</text>
<text x="995.2" y="177.4" textLength="18.6" lengthAdjust="spacingAndGlyphs">3.3750</text>
<text x="995.2" y="196.2" textLength="18.6" lengthAdjust="spacingAndGlyphs">3.2500</text>
<text x="995.2" y="215.8" textLength="18.6" lengthAdjust="spacingAndGlyphs">3.1250</text>
<text x="995.2" y="236.1" textLength="18.6" lengthAdjust="spacingAndGlyphs">3.0000</text>
<text x="995.2" y="257.4" textLength="18.6" lengthAdjust="spacingAndGlyphs">2.8750</text>
<text x="995.2" y="279.5" textLength="18.6" lengthAdjust="spacingAndGlyphs">2.7500</text>
<text x="995.2" y="296.8" textLength="18.6" lengthAdjust="spacingAndGlyphs">2.6565</text>
<text x="995.2" y="314.8" textLength="18.6" lengthAdjust="spacingAndGlyphs">2.5625</text>
<text x="995.2" y="333.3" textLength="18.6" lengthAdjust="spacingAndGlyphs">2.4690</text>
<text x="995.2" y="352.7" textLength="18.6" lengthAdjust="spacingAndGlyphs">2.3750</text>
<text x="995.2" y="372.7" textLength="18.6" lengthAdjust="spacingAndGlyphs">2.2815</text>
<text x="995.2" y="393.7" textLength="18.6" lengthAdjust="spacingAndGlyphs">2.1875</text>
<text x="995.2" y="411.1" textLength="18.6" lengthAdjust="spacingAndGlyphs">2.1125</text>
<text x="995.2" y="429.1" textLength="18.6" lengthAdjust="spacingAndGlyphs">2.0375</text>
<text x="995.2" y="446.3" textLength="18.6" lengthAdjust="spacingAndGlyphs">1.9685</text>
<text x="995.2" y="462.4" textLength="18.6" lengthAdjust="spacingAndGlyphs">1.9060</text>
</g>
<g stroke="#888" stroke-width="1" shape-rendering="crispEdges">
<line x1="991" y1="60.5" x2="993" y2="60.5"/>
<line x1="991" y1="90.5" x2="993" y2="90.5"/>
<line x1="991" y1="105.5" x2="993" y2="105.5"/>
<line x1="991" y1="122.5" x2="993" y2="122.5"/>
<line x1="991" y1="139.5" x2="993" y2="139.5"/>
<line x1="991" y1="157.5" x2="993" y2="157.5"/>
<line x1="991" y1="175.5" x2="993" y2="175.5"/>
<line x1="991" y1="194.5" x2="993" y2="194.5"/>
<line x1="991" y1="213.5" x2="993" y2="213.5"/>
<line x1="991" y1="234.5" x2="993" y2="234.5"/>
<line x1="991" y1="255.5" x2="993" y2="255.5"/>
<line x1="991" y1="277.5" x2="993" y2="277.5"/>
<line x1="991" y1="294.5" x2="993" y2="294.5"/>
<line x1="991" y1="312.5" x2="993" y2="312.5"/>
<line x1="991" y1="331.5" x2="993" y2="331.5"/>
<line x1="991" y1="350.5" x2="993" y2="350.5"/>
<line x1="991" y1="370.5" x2="993" y2="370.5"/>
<line x1="991" y1="391.5" x2="993" y2="391.5"/>
<line x1="991" y1="409.5" x2="993" y2="409.5"/>
<line x1="991" y1="427.5" x2="993" y2="427.5"/>
<line x1="991" y1="444.5" x2="993" y2="444.5"/>
<line x1="991" y1="460.5" x2="993" y2="460.5"/>
<line x1="991" y1="31.5" x2="993" y2="31.5"/>
<line x1="75.5" y1="466" x2="75.5" y2="468"/>
<line x1="148.5" y1="466" x2="148.5" y2="468"/>
<line x1="220.5" y1="466" x2="220.5" y2="468"/>
<line x1="297.5" y1="466" x2="297.5" y2="468"/>
<line x1="376.5" y1="466" x2="376.5" y2="468"/>
<line x1="450.5" y1="466" x2="450.5" y2="468"/>
<line x1="526.5" y1="466" x2="526.5" y2="468"/>
<line x1="602.5" y1="466" x2="602.5" y2="468"/>
<line x1="675.5" y1="466" x2="675.5" y2="468"/>
<line x1="750.5" y1="466" x2="750.5" y2="468"/>
<line x1="820.5" y1="466" x2="820.5" y2="468"/>
<line x1="890.5" y1="466" x2="890.5" y2="468"/>
<line x1="970.5" y1="466" x2="970.5" y2="468"/>
</g>
<g font-size="5.9" fill="#4a4a4a" stroke="#4a4a4a" stroke-width="0.12">
<text x="70.9" y="474.7" textLength="9.2" lengthAdjust="spacingAndGlyphs">Apr</text>
<text x="142.9" y="474.7" textLength="11.2" lengthAdjust="spacingAndGlyphs">May</text>
<text x="216.0" y="474.7" textLength="9.0" lengthAdjust="spacingAndGlyphs">Jun</text>
<text x="294.0" y="474.7" textLength="7.0" lengthAdjust="spacingAndGlyphs">Jul</text>
<text x="371.2" y="474.7" textLength="10.5" lengthAdjust="spacingAndGlyphs">Aug</text>
<text x="445.5" y="474.7" textLength="10.0" lengthAdjust="spacingAndGlyphs">Sep</text>
<text x="521.8" y="474.7" textLength="9.5" lengthAdjust="spacingAndGlyphs">Oct</text>
<text x="597.2" y="474.7" textLength="10.5" lengthAdjust="spacingAndGlyphs">Nov</text>
<text x="670.5" y="474.7" textLength="10.0" lengthAdjust="spacingAndGlyphs">Dec</text>
<text x="743.9" y="474.7" textLength="13.2" lengthAdjust="spacingAndGlyphs">2021</text>
<text x="815.5" y="474.7" textLength="10.0" lengthAdjust="spacingAndGlyphs">Feb</text>
<text x="885.4" y="474.7" textLength="10.2" lengthAdjust="spacingAndGlyphs">Mar</text>
<text x="965.9" y="474.7" textLength="9.2" lengthAdjust="spacingAndGlyphs">Apr</text>
</g>
<rect x="997.5" y="28.5" width="15" height="8.5" rx="3" fill="#fff" stroke="#e3e6ee" stroke-width="1"/>
<path d="M997,31.3 L995.6,32.6 L997,33.9Z M1012.6,30.9 L1014,32.3 L1012.6,33.7Z" fill="#c4c4c4"/>
<text x="999.6" y="34.8" font-size="6.7" fill="#666" textLength="10.2" lengthAdjust="spacingAndGlyphs">USD</text>
<rect x="990" y="76.7" width="26.5" height="8.9" rx="1.5" fill="#0b0b0b"/>
<text x="995.3" y="83.5" font-size="6.4" font-weight="bold" fill="#fff" textLength="18.7" lengthAdjust="spacingAndGlyphs">4.0755</text>
<line x1="990" y1="81" x2="993" y2="81" stroke="#fff" stroke-width="1"/>
<rect x="990" y="111.9" width="26.5" height="8.8" rx="1.5" fill="#ff00ff"/>
<text x="995.3" y="118.7" font-size="6.4" font-weight="bold" fill="#fff" textLength="18.7" lengthAdjust="spacingAndGlyphs">3.7950</text>
<g fill="#2196f3"><circle cx="5.7" cy="493.4" r="2.6"/><circle cx="9.5" cy="490.7" r="3.55"/><circle cx="14.9" cy="492.9" r="3.1"/><rect x="5.7" y="492" width="9.3" height="4"/></g>
<polyline points="4.9,494.1 9,490.3 12.3,494.1 15.4,490.9" stroke="#fff" stroke-width="0.85" fill="none" stroke-linejoin="round"/>
<text x="19" y="493.9" font-size="7.3" fill="#3a3a3a" stroke="#3a3a3a" stroke-width="0.2" textLength="39.7" lengthAdjust="spacingAndGlyphs">TradingView</text>
</svg></body></html>
